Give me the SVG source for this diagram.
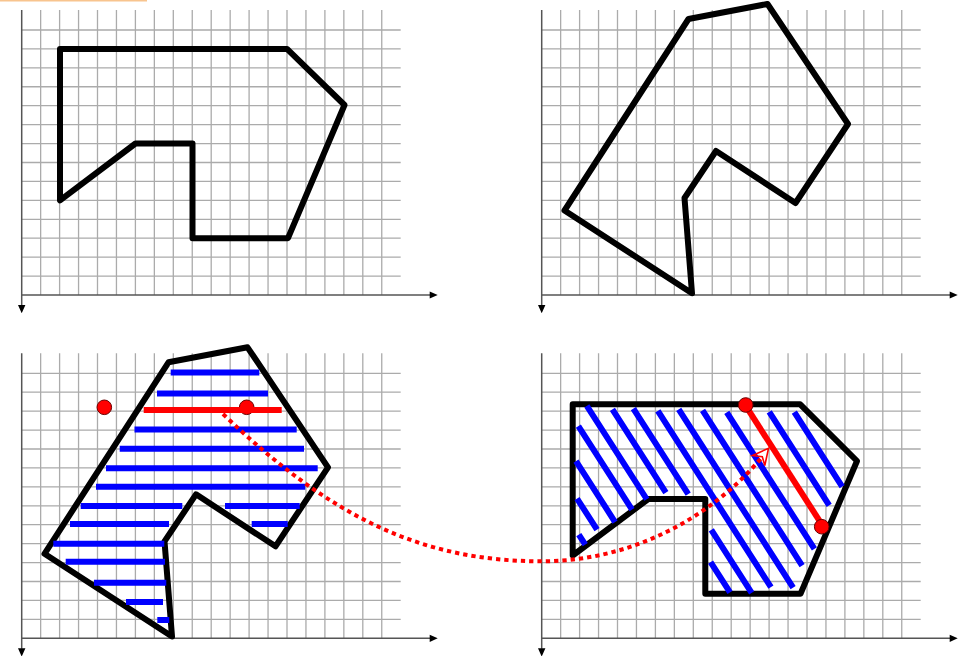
<svg xmlns="http://www.w3.org/2000/svg" width="962" height="656" viewBox="0 0 962 656">
<style>
.grid{stroke:#ababab;stroke-width:1.3;fill:none}
.axis{stroke:#555;stroke-width:1.5;fill:none}
.arrow{fill:#000}
.poly{fill:none;stroke:#000;stroke-width:6;stroke-linejoin:round}
.hatch{stroke:#0000ff;stroke-width:6;fill:none}
.scan{stroke:#ff0000;stroke-width:6;fill:none}
.pt{fill:#ff0000;stroke:#6a0000;stroke-width:1}
.curve{fill:none;stroke:#ff0000;stroke-width:4;stroke-dasharray:4.3 4}
.head{fill:none;stroke:#ff0000;stroke-width:1.6;stroke-linejoin:miter}
</style>
<defs>
<g id="panel">
<path class="grid" d="M18.95,-285V0 M37.9,-285V0 M56.85,-285V0 M75.8,-285V0 M94.75,-285V0 M113.7,-285V0 M132.65,-285V0 M151.6,-285V0 M170.55,-285V0 M189.5,-285V0 M208.45,-285V0 M227.4,-285V0 M246.35,-285V0 M265.3,-285V0 M284.25,-285V0 M303.2,-285V0 M322.15,-285V0 M341.1,-285V0 M360.05,-285V0"/>
<path class="grid" d="M0,-18.93H379 M0,-37.86H379 M0,-56.79H379 M0,-75.72H379 M0,-94.65H379 M0,-113.58H379 M0,-132.51H379 M0,-151.44H379 M0,-170.37H379 M0,-189.3H379 M0,-208.23H379 M0,-227.16H379 M0,-246.09H379 M0,-265.02H379"/>
<path class="axis" d="M0,0H409 M0,-285V10.5"/>
<path class="arrow" d="M416,0 L408,-3.6 L408,3.6Z M0,18.3 L-3.7,10 L3.7,10Z"/>
</g>
<g id="scanlines">
<path class="hatch" d="M170.7,372.5H259.3 M157,393.5H268 M134.5,429.5H296.7 M119.7,448.8H304 M106,468.3H317.7 M96,486.7H305.3 M80.7,506H182.3 M225,506H299.7 M70,524H169 M251.7,524H287.7 M53.3,543.7H164.3 M65.7,561.7H165 M94,582.7H166.3 M126,602H163 M157.3,620H169.3"/>
<path class="scan" d="M143.7,410H281.7"/>
</g>
</defs>
<rect x="0" y="0" width="147" height="1.5" fill="#f8c48e"/>
<g id="panel-top-left">
<use href="#panel" transform="translate(21.7,295)"/>
<polygon class="poly" points="60,48.9 287,48.9 344.5,105 288,238.2 192.5,238.2 192.5,143.5 135.5,143.5 60,200.4"/>
</g>
<g id="panel-top-right">
<use href="#panel" transform="translate(541.7,295)"/>
<polygon class="poly" points="688.5,19 767.5,4 848,124 795.5,203 716,151 684.5,198 692,293.2 564.5,210.5"/>
</g>
<g id="panel-bottom-left">
<use href="#panel" transform="translate(21.7,638.3)"/>
<polygon class="poly" points="168.5,362.3 247.5,347.3 328,467.3 275.5,546.3 196,494.3 164.5,541.3 172,636.5 44.5,553.8"/>
<circle class="pt" cx="104.3" cy="407.3" r="7.3"/>
<circle class="pt" cx="246.7" cy="407.3" r="7.3"/>
<use href="#scanlines"/>
</g>
<g id="panel-bottom-right">
<use href="#panel" transform="translate(541.7,638.3)"/>
<polygon class="poly" points="572.7,404.3 800.2,404.3 857,461 800.5,593.8 705.3,593.8 705.3,499 648.3,499 572.7,555.5"/>
<use href="#scanlines" transform="translate(707.75,501.3) rotate(57.3) translate(-198.96,-493.5)"/>
<circle class="pt" cx="745.7" cy="405" r="7.3"/>
<circle class="pt" cx="821.7" cy="526.7" r="7.3"/>
</g>
<g id="connectors">
<path class="curve" d="M223,414 C331,517.5 421.7,561.3 541.7,561.3 C631.7,561.3 711.8,517.6 763,456"/>
<path class="head" d="M752.6,455.5 L768.5,448.3 L764.8,465.5 L762.3,456.7 Z"/>
</g>
</svg>
